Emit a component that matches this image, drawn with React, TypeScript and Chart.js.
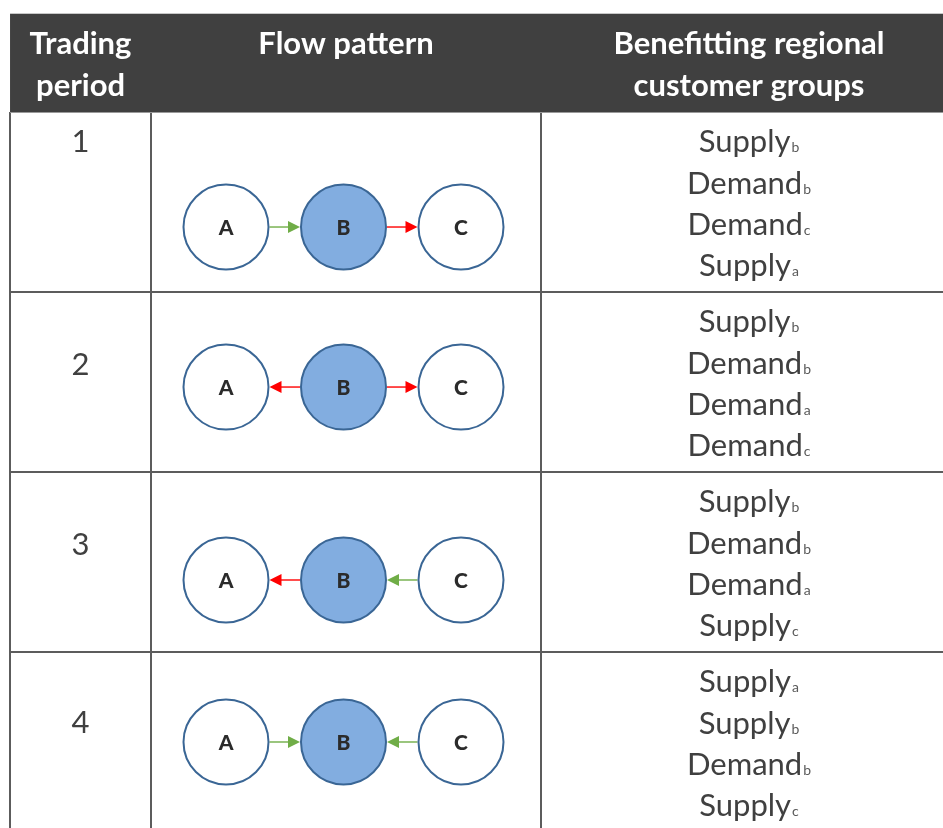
import React, { useEffect, useRef } from "react";
import { Chart, registerables } from "chart.js";

Chart.register(...registerables);

// ---------- DATA ----------
const headerLines: string[][] = [
  ["Trading", "period"],
  ["Flow pattern"],
  ["Benefitting regional", "customer groups"],
];
const periods = [1, 2, 3, 4];
const nodes = ["A", "B", "C"];
const hubNode = "B";
// flows per trading period: [from, to]
const flowsPeriod1: [string, string][] = [["A", "B"], ["B", "C"]];
const flowsPeriod2: [string, string][] = [["B", "A"], ["B", "C"]];
const flowsPeriod3: [string, string][] = [["B", "A"], ["C", "B"]];
const flowsPeriod4: [string, string][] = [["A", "B"], ["C", "B"]];
const flows = [flowsPeriod1, flowsPeriod2, flowsPeriod3, flowsPeriod4];
// benefitting groups per period: [name, region subscript]
const groupsPeriod1: [string, string][] = [["Supply", "b"], ["Demand", "b"], ["Demand", "c"], ["Supply", "a"]];
const groupsPeriod2: [string, string][] = [["Supply", "b"], ["Demand", "b"], ["Demand", "a"], ["Demand", "c"]];
const groupsPeriod3: [string, string][] = [["Supply", "b"], ["Demand", "b"], ["Demand", "a"], ["Supply", "c"]];
const groupsPeriod4: [string, string][] = [["Supply", "a"], ["Supply", "b"], ["Demand", "b"], ["Supply", "c"]];
const groups = [groupsPeriod1, groupsPeriod2, groupsPeriod3, groupsPeriod4];

// ---------- LAYOUT (scale units) ----------
const X_MIN = -1.9234;
const X_MAX = 6.1021;
const Y_MIN = -0.1222;
const Y_MAX = 4.4778;
const COL_EDGES = [-1.838, -0.638, 2.681, 6.221];
const HEADER_TOP = -0.0444;
const CIRCLE_OFFSET = [0.139, 0.028, 0.1, 0.0];
const NUMBER_BASELINE_PX = [40, 83, 83, 81];
const CIRCLE_R = 42.5;
const CIRCLE_BORDER = 2;

const FONT = "Lato, 'Open Sans', sans-serif";
const TEXT_COLOR = "#404040";
const HEADER_BG = "#404040";
const GRID_COLOR = "#5c5c5c";
const HUB_FILL = "#82ADE0";
const NODE_BORDER = "#3A6695";
const IN_COLOR = "#70AD47";
const OUT_COLOR = "#FF0000";

const tablePlugin = {
  id: "tableLayout",
  beforeDatasetsDraw(chart: any) {
    const { ctx, scales, width, height } = chart;
    const px = (v: number) => scales.x.getPixelForValue(v);
    const py = (v: number) => scales.y.getPixelForValue(v);
    ctx.save();
    const left = px(COL_EDGES[0]);
    const right = Math.max(px(COL_EDGES[3]), width);
    const headTop = py(HEADER_TOP);
    const headBottom = py(0.5);
    // header background
    ctx.fillStyle = HEADER_BG;
    ctx.fillRect(left, headTop, right - left, headBottom - headTop);
    ctx.strokeStyle = "#c8c8c8";
    ctx.lineWidth = 1;
    ctx.beginPath();
    ctx.moveTo(left, headTop - 0.5);
    ctx.lineTo(right, headTop - 0.5);
    ctx.stroke();

    // grid
    ctx.strokeStyle = GRID_COLOR;
    ctx.lineWidth = 2;
    ctx.beginPath();
    for (let i = 0; i < 3; i++) {
      const gx = Math.round(px(COL_EDGES[i]));
      ctx.moveTo(gx, headBottom);
      ctx.lineTo(gx, height);
    }
    periods.forEach((p) => {
      const gy = Math.round(py(p + 0.5));
      ctx.moveTo(left, gy);
      ctx.lineTo(right, gy);
    });
    ctx.stroke();
    ctx.strokeStyle = "#9a9a9a";
    ctx.lineWidth = 1;
    ctx.beginPath();
    ctx.moveTo(left, Math.round(headBottom) + 0.5);
    ctx.lineTo(right, Math.round(headBottom) + 0.5);
    ctx.stroke();

    // arrows
    const R = CIRCLE_R + CIRCLE_BORDER / 2;
    const headLen = 12;
    const headHalf = 6;
    periods.forEach((p, pi) => {
      const cy = py(p + CIRCLE_OFFSET[pi]);
      flows[pi].forEach(([from, to]) => {
        const fi = nodes.indexOf(from);
        const ti = nodes.indexOf(to);
        const dir = Math.sign(ti - fi);
        const color = to === hubNode ? IN_COLOR : OUT_COLOR;
        const x1 = px(fi) + dir * R;
        const x2 = px(ti) - dir * R;
        ctx.strokeStyle = color;
        ctx.lineWidth = 1.4;
        ctx.beginPath();
        ctx.moveTo(x1, cy);
        ctx.lineTo(x2 - dir * headLen * 0.8, cy);
        ctx.stroke();
        ctx.fillStyle = color;
        ctx.beginPath();
        ctx.moveTo(x2, cy);
        ctx.lineTo(x2 - dir * headLen, cy - headHalf);
        ctx.lineTo(x2 - dir * headLen, cy + headHalf);
        ctx.closePath();
        ctx.fill();
      });
    });
    ctx.restore();
  },
  afterDatasetsDraw(chart: any) {
    const { ctx, scales } = chart;
    const px = (v: number) => scales.x.getPixelForValue(v);
    const py = (v: number) => scales.y.getPixelForValue(v);
    ctx.save();
    const headTop = py(HEADER_TOP);
    // header text
    ctx.fillStyle = "#ffffff";
    ctx.font = `bold 31px ${FONT}`;
    ctx.textAlign = "center";
    ctx.textBaseline = "alphabetic";
    headerLines.forEach((lines, ci) => {
      const cx = px((COL_EDGES[ci] + COL_EDGES[ci + 1]) / 2);
      lines.forEach((line, li) => {
        ctx.fillText(line, cx, headTop + 40 + li * 42);
      });
    });

    // node letters
    ctx.fillStyle = "#2b2b2b";
    ctx.font = `900 21px ${FONT}`;
    ctx.textBaseline = "middle";
    periods.forEach((p, pi) => {
      const cy = py(p + CIRCLE_OFFSET[pi]);
      nodes.forEach((n, ni) => {
        ctx.fillText(n, px(ni), cy + 1);
      });
    });

    // period numbers
    ctx.textBaseline = "alphabetic";
    ctx.fillStyle = TEXT_COLOR;
    ctx.font = `31px ${FONT}`;
    const c1 = px((COL_EDGES[0] + COL_EDGES[1]) / 2);
    periods.forEach((p, pi) => {
      const top = py(p - 0.5);
      ctx.fillText(String(p), c1, top + NUMBER_BASELINE_PX[pi]);
    });

    // groups
    const c3 = px((COL_EDGES[2] + COL_EDGES[3]) / 2);
    ctx.textAlign = "left";
    periods.forEach((p, pi) => {
      const top = py(p - 0.5);
      groups[pi].forEach(([name, sub], k) => {
        const base = top + 40.5 + k * 41.3;
        ctx.font = `31px ${FONT}`;
        const w1 = ctx.measureText(name).width;
        ctx.font = `14px ${FONT}`;
        const w2 = ctx.measureText(sub).width;
        const sx = c3 - (w1 + 1 + w2) / 2;
        ctx.font = `31px ${FONT}`;
        ctx.fillStyle = TEXT_COLOR;
        ctx.fillText(name, sx, base);
        ctx.font = `14px ${FONT}`;
        ctx.fillStyle = "#5a5a5a";
        ctx.fillText(sub, sx + w1 + 1, base);
      });
    });
    ctx.restore();
  },
};

export default function App() {
  const canvasRef = useRef<HTMLCanvasElement | null>(null);

  useEffect(() => {
    if (!canvasRef.current) return;
    const points: any[] = [];
    periods.forEach((p, pi) => {
      nodes.forEach((n, ni) => {
        points.push({ x: ni, y: p + CIRCLE_OFFSET[pi], node: n });
      });
    });
    const chart = new Chart(canvasRef.current, {
      type: "scatter",
      data: {
        datasets: [
          {
            label: "Regions",
            data: points,
            pointRadius: CIRCLE_R,
            pointHoverRadius: CIRCLE_R,
            borderWidth: CIRCLE_BORDER,
            borderColor: NODE_BORDER,
            backgroundColor: (c: any) =>
              c.raw && c.raw.node === hubNode ? HUB_FILL : "#ffffff",
            clip: false as any,
          } as any,
        ],
      },
      options: {
        animation: false,
        responsive: false,
        events: [],
        layout: { padding: 0, autoPadding: false } as any,
        plugins: {
          legend: { display: false },
          tooltip: { enabled: false },
          title: { display: false },
        },
        scales: {
          x: { type: "linear", min: X_MIN, max: X_MAX, display: false },
          y: { type: "linear", min: Y_MIN, max: Y_MAX, reverse: true, display: false },
        },
      },
      plugins: [tablePlugin],
    });
    return () => chart.destroy();
  }, []);

  return (
    <div
      style={{
        position: "fixed",
        left: 0,
        top: 0,
        width: 943,
        height: 828,
        background: "#ffffff",
      }}
    >
      <canvas ref={canvasRef} width={943} height={828} style={{ width: 943, height: 828, display: "block" }} />
    </div>
  );
}
